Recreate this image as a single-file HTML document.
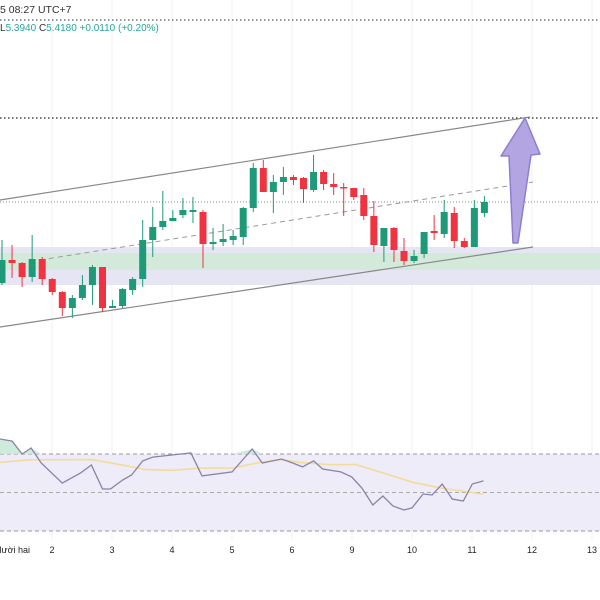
<!DOCTYPE html>
<html><head><meta charset="utf-8"><style>
html,body{margin:0;padding:0;background:#fff;width:600px;height:600px;overflow:hidden}
svg{display:block;font-family:"Liberation Sans","Noto Sans CJK SC",sans-serif}
</style></head><body>
<svg id="chart" width="600" height="600" viewBox="0 0 600 600" xmlns="http://www.w3.org/2000/svg">
<g id="grid"></g>
<rect x="0" y="247" width="600" height="38" fill="#e6e5f4"/>
<rect x="0" y="253" width="600" height="17" fill="#d3e9da"/>
<line x1="0" y1="20" x2="600" y2="20" stroke="#333" stroke-dasharray="1.5,2.5" stroke-width="1"/>
<line x1="0" y1="118" x2="600" y2="118" stroke="#222" stroke-dasharray="1.5,2.5" stroke-width="1.2"/>
<line x1="0" y1="202" x2="600" y2="202" stroke="#888" stroke-dasharray="1,2" stroke-width="1"/>
<line x1="0" y1="200" x2="530" y2="117" stroke="#888" stroke-width="1.2"/>
<line x1="0" y1="327" x2="533" y2="247" stroke="#888" stroke-width="1.2"/>
<line x1="40" y1="260" x2="533" y2="182" stroke="#999" stroke-width="1" stroke-dasharray="5,4"/>
<g id="candles"></g>
<path d="M513,243 L509,156 L501,156 L525,118 L540,154 L531,155 L518,243 Z" fill="#b3a5e2" stroke="#8e7ed0" stroke-width="1.5" stroke-linejoin="round"/>
<text x="0" y="13" font-size="10.5" fill="#333">5 08:27 UTC+7</text>
<text x="0" y="31" font-size="10" fill="#26a69a"><tspan fill="#333">L</tspan>5.3940 <tspan fill="#333">C</tspan>5.4180 +0.0110 (+0.20%)</text>
<rect x="0" y="454" width="600" height="77" fill="#eeecf8"/>
<line x1="0" y1="454" x2="600" y2="454" stroke="#999" stroke-dasharray="4,3"/>
<line x1="0" y1="492.5" x2="600" y2="492.5" stroke="#aaa" stroke-dasharray="4,3"/>
<line x1="0" y1="531" x2="600" y2="531" stroke="#999" stroke-dasharray="4,3"/>
<g id="rsi"></g>
<g id="xaxis"></g>
</svg>
<script>
const opens=[5.254,5.300,5.294,5.266,5.302,5.262,5.236,5.204,5.224,5.250,5.286,5.204,5.208,5.240,5.262,5.340,5.366,5.378,5.390,5.396,5.396,5.332,5.336,5.340,5.346,5.404,5.484,5.436,5.456,5.466,5.464,5.440,5.476,5.452,5.446,5.444,5.430,5.388,5.328,5.364,5.318,5.298,5.312,5.358,5.352,5.394,5.338,5.326,5.394];
const highs=[5.340,5.330,5.296,5.350,5.306,5.264,5.238,5.230,5.270,5.290,5.286,5.220,5.244,5.266,5.380,5.406,5.438,5.400,5.424,5.426,5.400,5.364,5.372,5.360,5.406,5.494,5.500,5.470,5.486,5.470,5.466,5.510,5.480,5.474,5.454,5.444,5.444,5.418,5.364,5.366,5.344,5.320,5.356,5.390,5.420,5.406,5.344,5.420,5.428];
const lows=[5.250,5.264,5.246,5.256,5.250,5.230,5.188,5.184,5.220,5.210,5.196,5.204,5.204,5.230,5.246,5.306,5.360,5.378,5.384,5.374,5.284,5.320,5.328,5.330,5.330,5.396,5.436,5.394,5.430,5.450,5.414,5.436,5.440,5.430,5.388,5.420,5.380,5.316,5.296,5.296,5.290,5.294,5.304,5.340,5.344,5.324,5.324,5.326,5.386];
const closes=[5.300,5.294,5.266,5.302,5.262,5.236,5.204,5.224,5.250,5.286,5.204,5.208,5.242,5.262,5.340,5.366,5.378,5.384,5.400,5.400,5.332,5.336,5.342,5.348,5.404,5.484,5.436,5.456,5.466,5.460,5.442,5.476,5.452,5.446,5.444,5.426,5.388,5.330,5.364,5.320,5.298,5.308,5.356,5.354,5.396,5.338,5.326,5.404,5.416];
const rsiT=[-0.2,1,2,2.9,3.9,6,7.8,8.9,10,10.8,12,12.9,14,15,16.9,18.8,19.9,22.9,24.9,25.9,27.8,28.7,29.9,31,31.9,33.7,34.8,35.8,36.9,37.9,38.9,40,40.8,41.9,42.8,43.8,44.8,45.9,46.8,47.9];
const rsiV=[77.8,76.7,70,73.1,65.3,54.9,60.1,64.3,51.8,51.8,56.5,59.1,66.4,68.4,69.5,70.5,58.6,60.7,72.6,65.3,67.4,65.8,63.3,66.4,62.2,60.7,58.1,52.4,43.5,48.2,43,40.9,42,49.2,48.7,54.4,46.6,45.6,54.4,56];
const maT=[-0.2,2.8,8.9,11.2,14.3,16.9,19.6,23,25.7,27.8,29.5,32.5,35.2,37.9,40.9,43.6,47.9];
const maV=[65.7,67,67.1,65,61.9,61.5,62.6,62.8,65.7,67.1,65.7,64.5,64.5,60.2,55.3,52.4,49.1];
const tickLabels=["Mười hai","2","3","4","5","6","9","10","11","12","13"];

const NS="http://www.w3.org/2000/svg";
const xOf=i=>2+i*10.05;
const yOf=p=>(5.82-p)*500;
const ryOf=v=>454+(70-v)*77/40;
const txOf=k=>k*60-8;
function mk(tag,attrs,parent){const e=document.createElementNS(NS,tag);for(const k in attrs)e.setAttribute(k,attrs[k]);parent.appendChild(e);return e;}

const grid=document.getElementById('grid');
for(let k=0;k<tickLabels.length;k++){
  const g=mk('line',{x1:txOf(k)+60-60,y1:0,x2:txOf(k),y2:540,stroke:'#f0f0f3','stroke-width':1},grid);
  
  
}

const cg=document.getElementById('candles');
for(let i=0;i<opens.length;i++){
  const up=closes[i]>=opens[i];
  const col=up?'#1f9a79':'#ef3340';
  const x=xOf(i);
  const w=mk('line',{x1:x,y1:yOf(highs[i]),x2:x,y2:yOf(lows[i]),stroke:col,'stroke-width':1},cg);
  
  
  const top=yOf(Math.max(opens[i],closes[i])),bot=yOf(Math.min(opens[i],closes[i]));
  const b=mk('rect',{x:x-3.5,y:top,width:7,height:Math.max(1.5,bot-top),fill:col},cg);
  
  
}

const rg=document.getElementById('rsi');
const rpts=rsiT.map((t,i)=>[xOf(t),ryOf(rsiV[i])]);
// overbought fill
let area='M'+rpts.map(p=>p[0].toFixed(1)+','+Math.min(p[1],454).toFixed(1)).join(' L')+' L'+rpts[rpts.length-1][0]+',454 L'+rpts[0][0]+',454 Z';
const af=mk('path',{d:area,fill:'#c9ead8',opacity:0.9},rg);


const ma=mk('polyline',{points:maT.map((t,i)=>xOf(t).toFixed(1)+','+ryOf(maV[i]).toFixed(1)).join(' '),fill:'none',stroke:'#f3dc9a','stroke-width':1.6},rg);


const rl=mk('polyline',{points:rpts.map(p=>p[0].toFixed(1)+','+p[1].toFixed(1)).join(' '),fill:'none',stroke:'#8a82a8','stroke-width':1.3},rg);



const xa=document.getElementById('xaxis');
for(let k=0;k<tickLabels.length;k++){
  const t=mk('text',{x:k===0?30:txOf(k),y:553,'font-size':9,fill:'#222','text-anchor':k===0?'end':'middle'},xa);
  t.textContent=tickLabels[k];
  
  
}
</script>
</body></html>
